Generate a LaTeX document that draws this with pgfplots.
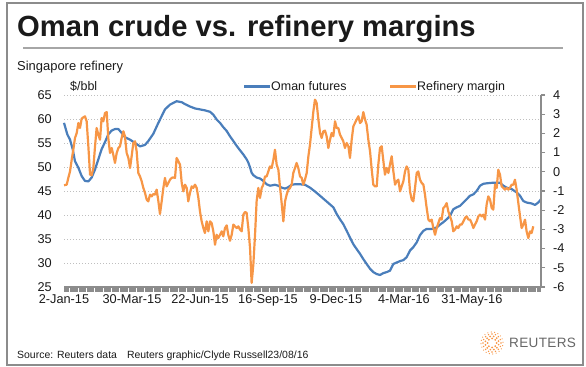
\documentclass[border=0pt]{standalone}
\usepackage{fontspec}
\setmainfont{Liberation Sans}
\usepackage{pgfplots}
\pgfplotsset{compat=1.18}
\definecolor{ublue}{HTML}{4A7EBB}
\definecolor{uorange}{HTML}{F79646}
\definecolor{axgray}{HTML}{8C8C8C}
\definecolor{gridgray}{HTML}{BFBFBF}
\definecolor{txt}{HTML}{1A1A1A}
\definecolor{logogray}{HTML}{666666}

\pgfplotstableread{
t v
0 59.2
2.9 56.8
5.3 55.7
7.7 53.7
9.7 51.2
12.6 49.9
15.6 48.1
18.5 47.1
21.5 47.0
24.4 47.8
27.4 49.5
30.3 51.6
33.2 53.7
36.2 55.2
39.1 56.8
42.1 57.6
45.0 57.9
48.0 57.9
50.9 57.1
53.8 56.2
58.3 55.7
62.7 55.0
67.1 54.3
71.5 54.6
74.4 55.4
78.8 56.9
83.3 59.2
86.2 60.6
89.1 62.0
93.6 63.0
99.4 63.7
103.9 63.5
106.8 63.1
111.2 62.6
115.6 62.2
120.0 62.0
124.4 61.8
128.9 61.5
131.8 60.9
134.7 59.9
137.7 59.2
140.6 58.3
143.6 57.5
146.5 56.4
149.5 55.4
152.4 54.4
155.3 53.5
158.3 52.6
161.2 51.6
162.7 50.9
164.2 49.9
165.6 48.8
167.1 48.3
170.0 47.8
173.0 47.6
175.9 47.1
178.9 46.4
181.8 46.1
186.2 46.3
189.2 46.1
192.1 45.7
195.1 45.5
198.0 45.8
200.9 46.3
203.9 46.4
208.3 46.4
212.7 46.3
217.1 45.7
221.5 44.9
226.0 44.0
230.4 43.1
234.8 42.2
237.7 41.6
240.7 40.2
243.6 39.1
246.5 38.1
249.5 36.7
252.4 35.3
255.4 33.9
258.3 32.9
261.3 31.9
264.2 30.8
267.1 29.8
270.1 28.8
273.0 28.1
276.0 27.7
278.9 27.5
281.9 27.9
284.8 28.1
287.7 28.4
290.7 29.8
293.6 30.1
296.6 30.4
299.5 30.6
302.4 31.2
305.4 32.6
308.3 33.3
311.3 34.3
314.2 35.8
317.2 36.7
320.1 37.1
324.5 37.1
328.9 37.4
331.9 38.0
334.8 38.5
337.7 39.1
340.7 39.8
343.6 41.2
346.6 41.6
349.5 41.9
352.5 42.6
355.4 43.3
358.3 44.0
361.3 44.3
364.2 45.0
367.2 46.1
370.1 46.5
373.0 46.6
377.5 46.7
381.9 46.7
384.8 46.7
387.8 46.1
390.7 45.7
395.1 45.4
399.5 44.7
402.5 44.0
405.4 42.9
408.3 42.6
412.7 42.4
415.7 42.1
418.6 42.6
421.0 43.3
}\omantable

\pgfplotstableread{
t v
0 -0.70
2.4 -0.67
3.8 -0.32
5.3 0.02
6.8 0.63
8.2 1.15
9.7 1.76
11.2 2.02
12.7 2.54
14.1 2.28
15.6 2.77
17.1 2.84
18.5 2.89
20.0 2.63
21.5 1.33
23.0 -0.15
24.4 -0.18
25.9 0.20
27.4 1.33
28.8 2.28
30.3 1.93
31.8 1.67
33.2 2.80
34.7 2.63
36.2 3.06
37.7 3.11
39.1 1.76
40.6 0.98
42.1 1.24
43.5 0.89
45.0 0.46
46.5 0.98
48.0 1.24
49.4 1.33
50.9 1.76
52.4 2.11
53.8 1.85
55.3 0.98
56.8 0.72
58.3 0.20
59.7 0.81
61.2 1.50
62.7 1.59
64.1 1.07
65.6 -0.06
67.1 -0.24
68.6 -0.50
70.0 -0.84
71.5 -1.10
73.0 -1.45
74.4 -1.54
75.9 -1.19
77.4 -1.28
78.8 -1.16
80.3 -1.19
81.8 -0.93
83.3 -1.54
84.7 -2.20
86.2 -1.54
87.7 -0.84
89.1 -0.32
90.6 -0.76
92.1 -0.58
93.6 -0.41
95.0 -0.32
96.5 -0.29
98.0 -0.32
99.4 0.72
100.9 0.55
102.4 0.37
103.9 -0.58
105.3 -1.02
106.8 -0.67
108.3 -0.84
109.7 -1.54
111.2 -1.10
112.7 -0.76
114.1 -0.84
115.6 -0.67
117.1 -0.84
118.6 -1.36
120.0 -2.06
121.5 -2.58
123.0 -2.93
124.4 -3.19
125.9 -2.58
127.4 -3.10
128.9 -2.58
130.3 -2.67
131.8 -3.10
133.3 -3.80
134.7 -3.28
136.2 -3.45
137.7 -3.28
139.2 -3.10
140.6 -3.36
142.1 -2.93
143.6 -2.79
145.0 -3.28
146.5 -3.59
148.0 -3.28
149.5 -2.75
150.9 -2.84
152.4 -2.93
153.9 -2.84
155.3 -3.01
156.8 -3.10
158.3 -2.23
159.8 -2.09
161.2 -2.14
162.7 -2.93
164.2 -3.97
165.6 -5.79
167.1 -4.84
168.6 -3.28
170.0 -1.54
171.5 -0.84
173.0 -1.36
174.5 -0.84
175.9 -0.67
177.4 -0.24
178.9 -0.24
180.3 0.02
181.8 0.28
183.3 0.20
184.8 0.63
186.2 1.15
187.7 0.37
189.2 0.11
190.6 -0.76
192.1 -1.63
193.6 -2.58
195.1 -1.54
196.5 -1.19
198.0 -0.93
199.5 -0.84
200.9 -0.67
202.4 -0.06
203.9 0.20
205.3 0.46
206.8 0.20
208.3 -0.24
209.8 -0.32
211.2 -0.67
212.7 -0.41
214.2 -0.06
215.7 0.81
217.1 1.41
218.6 2.28
220.1 3.15
221.5 3.76
223.0 3.58
224.5 2.72
226.0 2.02
227.4 1.76
228.9 2.11
230.4 2.14
231.8 1.85
233.3 1.24
234.8 1.67
236.2 2.02
237.7 1.85
239.2 2.63
240.7 2.28
242.1 2.28
243.6 1.93
245.1 1.76
246.5 1.59
248.0 1.24
249.5 1.50
251.0 1.33
252.4 0.72
253.9 1.67
255.4 2.37
256.8 2.54
258.3 2.72
259.8 2.89
261.3 2.54
262.7 2.63
264.2 3.11
265.7 2.72
267.1 2.46
268.6 1.67
270.1 1.07
271.6 0.11
273.0 -0.67
274.5 -0.76
276.0 -0.76
277.4 0.37
278.9 1.24
280.4 1.33
281.9 0.55
283.3 -0.15
284.8 0.20
286.3 -0.06
287.7 0.37
289.2 0.81
290.7 0.02
292.2 -0.67
293.6 -0.50
295.1 -0.41
296.6 -1.02
298.0 -0.76
299.5 -0.50
301.0 0.02
302.4 0.28
303.9 0.11
305.4 -1.02
306.9 -1.45
308.3 -1.54
309.8 -0.84
311.3 -0.06
312.7 0.02
314.2 -0.41
315.7 -0.58
317.2 -0.67
318.6 -1.19
320.1 -1.89
321.6 -2.49
323.0 -2.58
324.5 -2.49
326.0 -2.93
327.5 -3.28
328.9 -2.93
330.4 -2.67
331.9 -2.41
333.3 -2.49
334.8 -1.89
336.3 -1.80
337.7 -1.63
339.2 -2.06
340.7 -2.32
342.2 -2.58
343.6 -3.10
345.1 -3.01
346.6 -2.84
348.0 -2.93
349.5 -2.75
351.0 -2.75
352.5 -2.58
353.9 -2.41
355.4 -2.32
356.9 -2.49
358.3 -2.49
359.8 -2.67
361.3 -2.93
362.7 -2.75
364.2 -2.58
365.7 -2.32
367.2 -2.23
368.6 -2.32
370.1 -2.23
371.6 -2.49
373.0 -1.71
374.5 -1.28
376.0 -1.45
377.5 -1.89
378.9 -1.97
380.4 -0.67
381.9 -0.84
383.3 0.11
384.8 -0.15
386.3 -0.76
387.8 -0.84
389.2 -0.93
390.7 -0.84
392.2 -0.93
393.6 -0.84
395.1 -0.67
396.6 -0.67
398.0 -0.41
399.5 -0.93
401.0 -1.63
402.5 -2.32
403.9 -2.93
405.4 -2.75
406.9 -2.49
408.3 -3.10
409.8 -3.45
411.3 -3.10
412.7 -3.19
414.2 -2.84
}\margintable

\begin{document}
\begin{tikzpicture}
\path[use as bounding box] (0bp,0bp) rectangle (586bp,367bp);
\draw[axgray, line width=1.3bp] (7bp,2bp) rectangle (583bp,364bp);
\node[anchor=base west, inner sep=0, text=txt] at (17bp,330bp)
  {\fontsize{29.3}{32}\selectfont\bfseries Oman crude vs. refinery margins};
\draw[gray!70, line width=1.2bp] (23bp,319bp) -- (563bp,319bp);
\node[anchor=base west, inner sep=0, text=txt] at (17bp,296bp)
  {\fontsize{13}{15}\selectfont Singapore refinery};
\node[anchor=base west, inner sep=0, text=txt] at (70bp,276bp)
  {\fontsize{12.5}{14}\selectfont \$/bbl};
\draw[ublue, line width=2.2bp] (244bp,280.5bp) -- (270bp,280.5bp);
\node[anchor=base west, inner sep=0, text=txt] at (271bp,276bp)
  {\fontsize{12.5}{14}\selectfont Oman futures};
\draw[uorange, line width=2.2bp] (390bp,280.5bp) -- (416bp,280.5bp);
\node[anchor=base west, inner sep=0, text=txt] at (417bp,276bp)
  {\fontsize{12.5}{14}\selectfont Refinery margin};
\node[anchor=base west, inner sep=0, text=txt] at (17bp,9bp)
  {\fontsize{10.5}{12}\selectfont Source: Reuters data\hspace{10bp}Reuters graphic/Clyde Russell23/08/16};
% logo
\foreach \r/\n/\s in {4.5/8/1.0, 6.8/12/0.95, 9/16/0.8, 11/20/0.6}{
  \foreach \k in {1,...,\n}{
    \fill[uorange] ({492bp+\r bp*cos(360*\k/\n+20*\r)},{24bp+\r bp*sin(360*\k/\n+20*\r)}) circle (\s bp);
  }
}
\node[anchor=west, inner sep=0, text=logogray] at (509bp,24bp)
  {\fontsize{13.6}{15}\selectfont\addfontfeature{LetterSpace=2.5}REUTERS};

\begin{axis}[
  at={(64bp,80bp)}, anchor=south west,
  scale only axis, width=477bp, height=192bp,
  xmin=0, xmax=421, ymin=25, ymax=65,
  axis x line*=bottom, axis y line*=left,
  x axis line style={draw=none},
  y axis line style={draw=none},
  ytick={25,30,35,40,45,50,55,60,65},
  yticklabels={25,30,35,40,45,50,55,60,65},
  xtick={0,60,120,180,240,300,360},
  xticklabels={2-Jan-15,30-Mar-15,22-Jun-15,16-Sep-15,9-Dec-15,4-Mar-16,31-May-16},
  major tick length=0pt,
  ymajorgrids,
  grid style={gridgray, line width=0.9bp, dash pattern=on 1bp off 2bp},
  tick label style={font=\fontsize{12.8}{14}\selectfont, text=txt},
  yticklabel style={anchor=east, inner sep=0pt, xshift=-12bp},
  xticklabel style={anchor=north, inner sep=0pt, yshift=-7bp},
  clip=false,
]
\addplot[ublue, line width=2.2bp, line join=round, no markers] table[x=t, y=v] {\omantable};
\end{axis}

\begin{axis}[
  at={(64bp,80bp)}, anchor=south west,
  scale only axis, width=477bp, height=192bp,
  xmin=0, xmax=421, ymin=-6, ymax=4,
  axis x line=none, axis y line*=right,
  y axis line style={draw=axgray, line width=1.3bp},
  ytick={-6,-5,-4,-3,-2,-1,0,1,2,3,4},
  yticklabels={-6,-5,-4,-3,-2,-1,0,1,2,3,4},
  tick align=outside, major tick length=4bp,
  ytick style={draw=axgray, line width=1.3bp},
  tick label style={font=\fontsize{12.8}{14}\selectfont, text=txt},
  yticklabel style={anchor=west, inner sep=0pt, xshift=8bp},
  clip=false,
]
\addplot[uorange, line width=2.2bp, line join=round, no markers] table[x=t, y=v] {\margintable};
\draw[axgray, line width=1.2bp] (rel axis cs:0,0) -- (rel axis cs:1,0);
\draw[axgray, line width=4.5bp, dash pattern=on 7.3bp off 1.03bp, dash phase=2bp]
  ([yshift=-3bp]rel axis cs:0,0) -- ([yshift=-3bp]rel axis cs:1,0);
\end{axis}
\end{tikzpicture}
\end{document}
